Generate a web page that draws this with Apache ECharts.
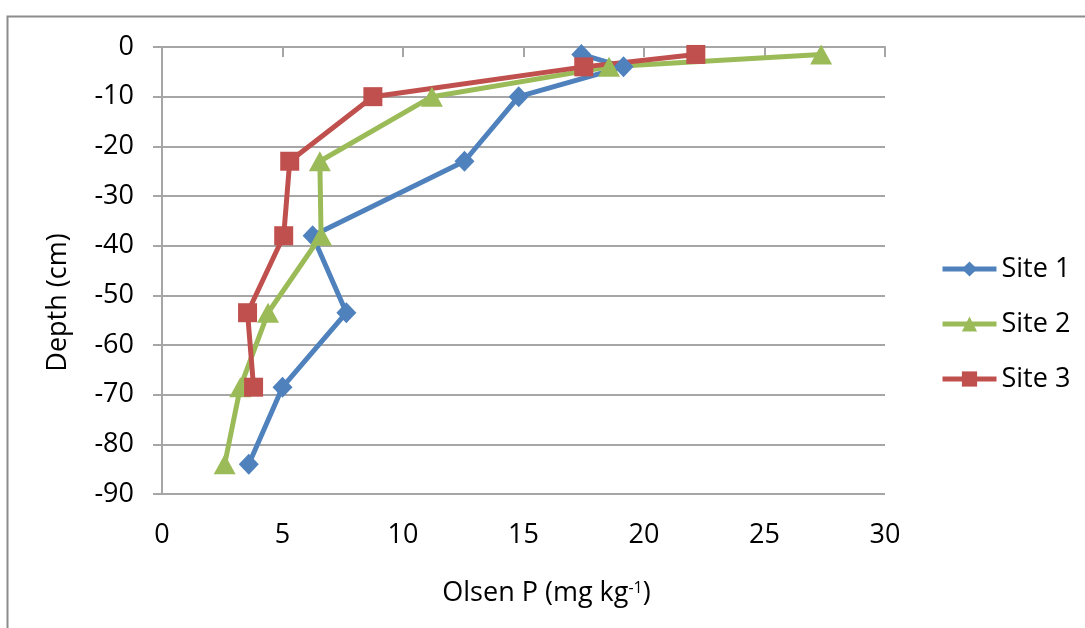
<!DOCTYPE html>
<html><head><meta charset="utf-8">
<script src="https://cdn.jsdelivr.net/npm/echarts@6/dist/echarts.min.js"></script>
<style>html,body{margin:0;padding:0;background:#fff}#c{width:1085px;height:628px}</style>
</head><body><div id="c"></div>
<script>
// Depth (cm) of each sample, shared by all sites
const depths = [-1.5, -4, -10, -23, -38, -53.5, -68.5, -84];
// Olsen P (mg kg-1) per site
const site1 = [17.4, 19.15, 14.8, 12.55, 6.25, 7.65, 5.0, 3.6];
const site2 = [27.35, 18.55, 11.2, 6.55, 6.6, 4.4, 3.25, 2.6];
const site3 = [22.15, 17.5, 8.75, 5.3, 5.05, 3.55, 3.8];
const seriesNames = ['Site 1', 'Site 2', 'Site 3'];
const xRange = [0, 30, 5];    // min, max, interval
const yRange = [-90, 0, 10];  // min, max, interval

const FONT = '"Open Sans", sans-serif';
const FS = 27;
const GRID = '#a6a6a6';
const colors = ['#4F81BD', '#9BBB59', '#C0504D'];
const symbols = ['diamond', 'triangle', 'rect'];
const sizes = [[20, 21], [22, 20], [19, 19]];

function pairs(vals) { return vals.map((v, i) => [v, depths[i]]); }
const allSites = [site1, site2, site3];

const chart = echarts.init(document.getElementById('c'), null, {renderer: 'canvas'});
chart.setOption({
  animation: false,
  backgroundColor: '#fff',
  graphic: [{
    type: 'rect', left: 5, top: 14, silent: true,
    shape: {width: 1200, height: 800},
    style: {fill: 'none', stroke: '#8c8c8c', lineWidth: 2}
  }],
  grid: {left: 162, right: 200, top: 47, bottom: 134, containLabel: false},
  xAxis: [{
    type: 'value', position: 'bottom', min: xRange[0], max: xRange[1], interval: xRange[2],
    axisLine: {show: false}, axisTick: {show: false}, splitLine: {show: false},
    axisLabel: {fontFamily: FONT, fontSize: FS, color: '#000', margin: 28},
    name: '{a|Olsen P (mg kg}{s|-1}{a|)}', nameLocation: 'middle', nameGap: 86,
    nameTextStyle: {
      padding: [0, 0, 0, 46],
      rich: {
        a: {fontFamily: FONT, fontSize: FS, color: '#000'},
        s: {fontFamily: FONT, fontSize: 16, color: '#000', verticalAlign: 'top', padding: [0, 0, 11, 0]}
      }
    }
  }, {
    type: 'value', position: 'top', min: xRange[0], max: xRange[1], interval: xRange[2],
    axisLine: {show: true, onZero: false, lineStyle: {color: GRID, width: 2}},
    axisTick: {show: true, inside: true, length: 10, lineStyle: {color: GRID, width: 2}},
    axisLabel: {show: false}, splitLine: {show: false}
  }],
  yAxis: {
    type: 'value', min: yRange[0], max: yRange[1], interval: yRange[2],
    axisLine: {show: true, onZero: false, lineStyle: {color: GRID, width: 2}},
    axisTick: {show: true, length: 9, lineStyle: {color: GRID, width: 2}},
    splitLine: {show: true, lineStyle: {color: GRID, width: 2}},
    axisLabel: {fontFamily: FONT, fontSize: FS, color: '#000', margin: 28},
    name: 'Depth (cm)', nameLocation: 'middle', nameGap: 90, nameRotate: 90,
    nameTextStyle: {fontFamily: FONT, fontSize: FS, color: '#000', padding: [0, 64, 0, 0]}
  },
  legend: {
    orient: 'vertical', left: 940, top: 254, padding: 0,
    itemWidth: 54, itemHeight: 19, itemGap: 25,
    lineStyle: {width: 5},
    textStyle: {fontFamily: FONT, fontSize: FS, color: '#000', lineHeight: 30},
    data: seriesNames
  },
  series: allSites.map((vals, i) => ({
    name: seriesNames[i], type: 'line', xAxisIndex: 0,
    data: pairs(vals),
    symbol: symbols[i], symbolSize: sizes[i],
    lineStyle: {color: colors[i], width: 5},
    itemStyle: {color: colors[i]}
  }))
});
</script></body></html>
